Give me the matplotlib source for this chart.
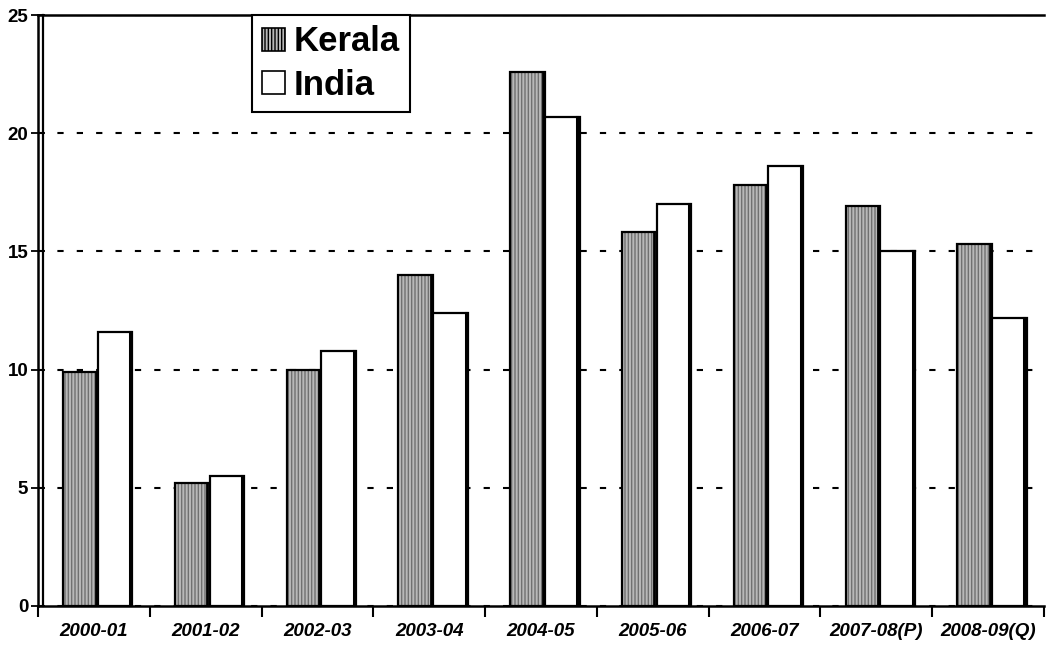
import matplotlib
matplotlib.use("Agg")
import matplotlib.pyplot as plt
import numpy as np
from matplotlib.patches import Patch

years = ["2000-01", "2001-02", "2002-03", "2003-04", "2004-05",
         "2005-06", "2006-07", "2007-08(P)", "2008-09(Q)"]
kerala = [9.9, 5.2, 10.0, 14.0, 22.6, 15.8, 17.8, 16.9, 15.3]
india = [11.6, 5.5, 10.8, 12.4, 20.7, 17.0, 18.6, 15.0, 12.2]

plt.rcParams['font.family'] = ['Liberation Sans', 'DejaVu Sans']

fig = plt.figure(figsize=(10.46, 6.49), dpi=100)
ax = fig.add_axes([38/1046, 43/649, 1006/1046, 591/649])

x = np.arange(len(years))
w = 0.31
off = 0.035

# Kerala: stippled grey fill
ax.bar(x - w/2 + off, kerala, w, color='#b8b8b8', edgecolor='#707070', hatch='|||||',
       linewidth=0, zorder=3)
ax.bar(x - w/2 + off, kerala, w, fill=False, edgecolor='black', linewidth=1.6, zorder=4)
ax.bar(x + w/2 + off, india, w, color='white', edgecolor='black', linewidth=1.6, zorder=4)
# dark right-hand edge (shadow effect)
for xi, v in zip(x, india):
    ax.plot([xi + w + off - 0.02] * 2, [0, v], color='black', lw=2.2, zorder=5)
for xi, v in zip(x, kerala):
    ax.plot([xi + off - 0.02] * 2, [0, v], color='black', lw=2.0, zorder=5)

ax.set_xlim(-0.5, len(years) - 0.5)
ax.set_ylim(0, 25)
ax.set_yticks([0, 5, 10, 15, 20, 25])
ax.set_yticklabels(['0', '5', '10', '15', '20', '25'], fontsize=13.5, fontweight='bold')
ax.yaxis.grid(True, linestyle=(0, (3, 6.3)), color='black', linewidth=1.5, zorder=1)
ax.set_axisbelow(True)

ax.set_xticks(x)
ax.set_xticklabels(years, fontsize=13.5, fontweight='bold', style='italic')
ax.tick_params(axis='x', which='major', length=0, pad=12)
ax.set_xticks(np.arange(len(years) + 1) - 0.5, minor=True)
ax.tick_params(axis='x', which='minor', length=8, width=1.5, direction='out')
ax.tick_params(axis='y', length=10, width=1.3, direction='inout', pad=2)

for s in ['left', 'bottom', 'top']:
    ax.spines[s].set_linewidth(1.8)
ax.spines['right'].set_visible(False)
# second (double) line of the vertical axis
ax.plot([5/1006, 5/1006], [0, 1], transform=ax.transAxes, color='black',
        lw=1.6, zorder=6, clip_on=False)

h1 = Patch(facecolor='#b8b8b8', edgecolor='black', hatch='|||||', linewidth=1.2)
h2 = Patch(facecolor='white', edgecolor='black', linewidth=1.2)
leg = ax.legend([h1, h2], ['Kerala', 'India'], loc='upper left',
                bbox_to_anchor=(214/1006, 1.0), frameon=True, fancybox=False,
                prop={'size': 25, 'weight': 'bold'}, handlelength=0.65,
                handleheight=0.65, handletextpad=0.25, borderpad=0.3,
                labelspacing=0.3, edgecolor='black', borderaxespad=0,
                framealpha=1)
leg.get_frame().set_linewidth(1.5)

fig.savefig('out.png', dpi=100)
